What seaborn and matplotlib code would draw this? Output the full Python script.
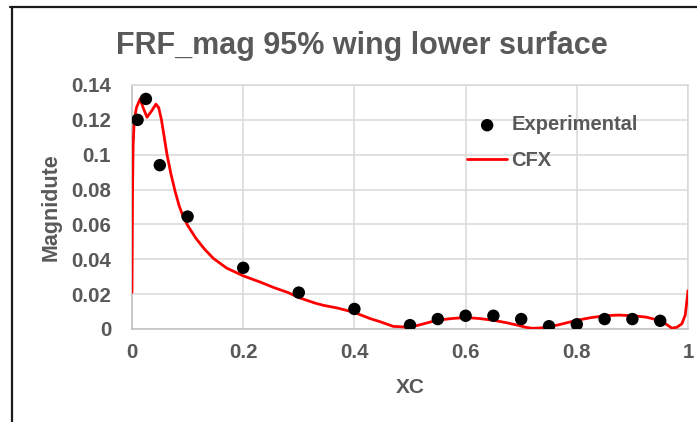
import numpy as np
import pandas as pd
import matplotlib
matplotlib.use("Agg")
import matplotlib.pyplot as plt
from matplotlib.lines import Line2D
import seaborn as sns

# Experimental FRF magnitude along the chord
exp_xc = [0.01, 0.025, 0.05, 0.1, 0.2, 0.3, 0.4, 0.5, 0.55, 0.6, 0.65, 0.7,
          0.75, 0.8, 0.85, 0.9, 0.95]
exp_mag = [0.120, 0.132, 0.094, 0.0645, 0.0351, 0.0209, 0.0115, 0.0022, 0.0057,
           0.0076, 0.0076, 0.0057, 0.0016, 0.0027, 0.0057, 0.0057, 0.0047]

# CFX prediction
cfx_xc = [0.0, 0.0005, 0.001, 0.002, 0.004, 0.008, 0.0145, 0.02, 0.027, 0.035,
          0.043, 0.048, 0.053, 0.058, 0.063, 0.07, 0.0775, 0.085, 0.092, 0.1,
          0.115, 0.13, 0.146, 0.17, 0.2, 0.23, 0.254, 0.28, 0.302, 0.33, 0.344,
          0.37, 0.4, 0.428, 0.446, 0.47, 0.5, 0.525, 0.548, 0.575, 0.6, 0.625,
          0.65, 0.672, 0.692, 0.708, 0.72, 0.735, 0.752, 0.775, 0.8, 0.825,
          0.851, 0.875, 0.902, 0.925, 0.95, 0.962, 0.971, 0.98, 0.989, 0.995,
          0.998, 1.0]
cfx_mag = [0.021, 0.05, 0.08, 0.105, 0.12, 0.127, 0.132, 0.127, 0.1215, 0.125,
           0.129, 0.127, 0.12, 0.11, 0.1, 0.089, 0.079, 0.0705, 0.0645, 0.0595,
           0.052, 0.046, 0.0406, 0.035, 0.0305, 0.027, 0.0239, 0.021, 0.0178,
           0.0148, 0.0136, 0.012, 0.0095, 0.006, 0.0042, 0.0015, 0.001, 0.003,
           0.005, 0.006, 0.0066, 0.006, 0.005, 0.0037, 0.0023, 0.001, 0.0004,
           0.0006, 0.0013, 0.003, 0.005, 0.0065, 0.0076, 0.008, 0.0076, 0.0068,
           0.0048, 0.0025, 0.0005, 0.001, 0.003, 0.008, 0.016, 0.022]

x_ticks = [0, 0.2, 0.4, 0.6, 0.8, 1.0]
x_tick_labels = ["0", "0.2", "0.4", "0.6", "0.8", "1"]
y_ticks = [0, 0.02, 0.04, 0.06, 0.08, 0.1, 0.12, 0.14]
y_tick_labels = ["0", "0.02", "0.04", "0.06", "0.08", "0.1", "0.12", "0.14"]

sns.set_theme(style="white")
plt.rcParams["font.family"] = ["Liberation Sans", "DejaVu Sans"]

TEXT = "#595959"
GRID = "#d9d9d9"

exp_df = pd.DataFrame({"XC": exp_xc, "Magnitude": exp_mag})
cfx_df = pd.DataFrame({"XC": cfx_xc, "Magnitude": cfx_mag})

fig = plt.figure(figsize=(6.97, 4.22), dpi=100)
ax = fig.add_axes([132 / 697, 1 - 329 / 422, 556 / 697, 244 / 422])

sns.lineplot(data=cfx_df, x="XC", y="Magnitude", ax=ax, color="#ff0000",
             linewidth=2.0, sort=False, label="CFX", zorder=3)
sns.scatterplot(data=exp_df, x="XC", y="Magnitude", ax=ax, color="black",
                s=80, edgecolor="none", label="Experimental", zorder=4)

ax.set_xlim(0, 1)
ax.set_ylim(0, 0.14)
ax.set_xticks(x_ticks)
ax.set_xticklabels(x_tick_labels)
ax.set_yticks(y_ticks)
ax.set_yticklabels(y_tick_labels)
ax.tick_params(axis="both", length=0, labelsize=14.8, labelcolor=TEXT)
ax.tick_params(axis="x", pad=10)
ax.tick_params(axis="y", pad=15)
for lab in ax.get_xticklabels() + ax.get_yticklabels():
    lab.set_fontweight("bold")

ax.grid(True, color=GRID, linewidth=1.1)
ax.set_axisbelow(True)
for side, sp in ax.spines.items():
    sp.set_color(GRID)
    sp.set_linewidth(1.1)
ax.spines["left"].set_color("#bfbfbf")
ax.spines["bottom"].set_color("#bfbfbf")

ax.set_xlabel("XC", fontsize=15, fontweight="bold", color=TEXT)
ax.set_ylabel("Magnidute", fontsize=15.5, fontweight="bold", color=TEXT)
ax.xaxis.set_label_coords(0.5, -0.2)
ax.yaxis.set_label_coords(-0.126, 0.5)

# legend: marker entry first, then the line
handles, labels = ax.get_legend_handles_labels()
order = [labels.index("Experimental"), labels.index("CFX")]
leg = ax.legend([handles[i] for i in order], [labels[i] for i in order],
                loc="upper left", bbox_to_anchor=(0.6025, 0.875),
                frameon=False, borderpad=0, borderaxespad=0,
                handlelength=2.0, handletextpad=0.2, labelspacing=0.8,
                prop={"size": 14.5, "weight": "bold"}, labelcolor=TEXT)

fig.text(362 / 697, 1 - 46 / 422, "FRF_mag 95% wing lower surface",
         ha="center", va="center", fontsize=22, fontweight="bold", color=TEXT)

# outer chart frame
fig.add_artist(Line2D([10 / 697, 1], [1 - 7 / 422, 1 - 7 / 422],
                      transform=fig.transFigure, color="#1a1a1a", linewidth=1.6))
fig.add_artist(Line2D([12 / 697, 12 / 697], [0, 1 - 7 / 422],
                      transform=fig.transFigure, color="#1a1a1a", linewidth=1.6))

fig.savefig("out.png", dpi=100)
